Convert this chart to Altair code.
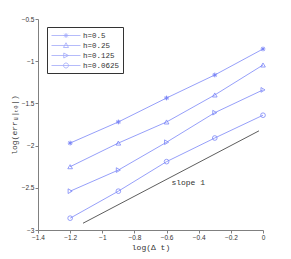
import altair as alt
import pandas as pd

dt = [-1.2, -0.9, -0.6, -0.3, 0.0]
h_labels = ["h=0.5", "h=0.25", "h=0.125", "h=0.0625"]
err_h05 = [-1.97, -1.72, -1.436, -1.163, -0.855]
err_h025 = [-2.25, -1.97, -1.72, -1.40, -1.045]
err_h0125 = [-2.54, -2.29, -1.96, -1.61, -1.34]
err_h00625 = [-2.86, -2.54, -2.19, -1.91, -1.64]
slope_x = [-1.12, -0.025]
slope_y = [-2.92, -1.825]
slope_text = ["slope 1"]
slope_text_x = [-0.57]
slope_text_y = [-2.44]
x_ticks = [-1.4, -1.2, -1.0, -0.8, -0.6, -0.4, -0.2, 0.0]
y_ticks = [-3.0, -2.5, -2.0, -1.5, -1.0, -0.5]

BLUE = "#7b86f7"
MONO = "Liberation Mono"

series = [err_h05, err_h025, err_h0125, err_h00625]
rows = []
for lab, vals in zip(h_labels, series):
    for x, y in zip(dt, vals):
        rows.append({"h": lab, "dt": x, "err": y})
df = pd.DataFrame(rows)

xs = alt.Scale(domain=[-1.4, 0], nice=False, zero=False)
ys = alt.Scale(domain=[-3, -0.5], nice=False, zero=False)

xaxis = alt.Axis(
    values=x_ticks, format="~g", title="log(Δ t)", titleFont=MONO,
    titleFontSize=8, titleFontWeight="normal", titlePadding=3,
    labelOverlap=False, labelFlush=False, labelBound=False)
yaxis = alt.Axis(
    values=y_ticks, format="~g", title="log(errᵤ|ₜₑ|)", titleFont=MONO,
    titleFontSize=8, titleFontWeight="normal", titlePadding=3,
    labelOverlap=False, labelFlush=False, labelBound=False)
xenc = alt.X("dt:Q", scale=xs, axis=xaxis)
yenc = alt.Y("err:Q", scale=ys, axis=yaxis)

base = alt.Chart(df)
lines = base.mark_line(color=BLUE, strokeWidth=0.8).encode(
    x=xenc, y=yenc, detail="h:N")

marker_shapes = [
    "M-1,0H1M0,-1V1M-0.7,-0.7L0.7,0.7M-0.7,0.7L0.7,-0.7",
    "triangle-up",
    "triangle-right",
    "circle",
]
points = []
for lab, shp in zip(h_labels, marker_shapes):
    points.append(
        base.transform_filter(alt.datum.h == lab)
        .mark_point(shape=shp, size=22, color=BLUE, filled=False,
                    strokeWidth=1.0 if lab == "h=0.5" else 0.8, opacity=1)
        .encode(x=xenc, y=yenc)
    )

sdf = pd.DataFrame({"dt": slope_x, "err": slope_y})
slope = alt.Chart(sdf).mark_line(color="#333333", strokeWidth=0.8).encode(
    x=xenc, y=yenc)

tdf = pd.DataFrame({"dt": slope_text_x, "err": slope_text_y, "t": slope_text})
stext = alt.Chart(tdf).mark_text(font=MONO, fontSize=8, align="left",
                                 color="#333333").encode(
    x=xenc, y=yenc, text="t:N")

legend_paths = [
    "M-0.8,0H5M1.6,0H2.6M2.1,-0.5V0.5M1.75,-0.35L2.45,0.35M1.75,0.35L2.45,-0.35",
    "M-0.8,0H5M2.1,-0.55L2.6,0.4L1.6,0.4Z",
    "M-0.8,0H5M1.65,-0.5L2.6,0L1.65,0.5Z",
    "M-0.8,0H5M1.6,0A0.5,0.5 0 1,0 2.6,0A0.5,0.5 0 1,0 1.6,0",
]
legend_layer = base.transform_filter("false").mark_point(color=BLUE).encode(
    x=xenc, y=yenc,
    shape=alt.Shape("h:N", scale=alt.Scale(domain=h_labels, range=legend_paths),
                    legend=alt.Legend(
                        title=None, orient="none", legendX=9, legendY=8,
                        symbolSize=100, symbolStrokeColor=BLUE,
                        symbolFillColor="transparent", symbolStrokeWidth=0.8,
                        labelFont=MONO, labelFontSize=7.5, labelOffset=22,
                        rowPadding=0, padding=3, fillColor="white",
                        strokeColor="#333333", labelColor="#333333")))

chart = alt.layer(lines, *points, slope, stext, legend_layer).properties(
    width=225, height=211,
    autosize=alt.AutoSizeParams(type="none"),
    padding={"left": 30, "top": 11, "right": 20, "bottom": 30},
).configure_view(stroke=None).configure_axis(
    grid=False, domainColor="#808080", tickColor="#808080", tickSize=3,
    labelFont="Liberation Sans", labelFontSize=6.5, labelColor="#333333",
    titleColor="#333333", labelPadding=1, labelOverlap=False,
)

chart.save("out.html", embed_options={"renderer": "svg", "actions": False})
